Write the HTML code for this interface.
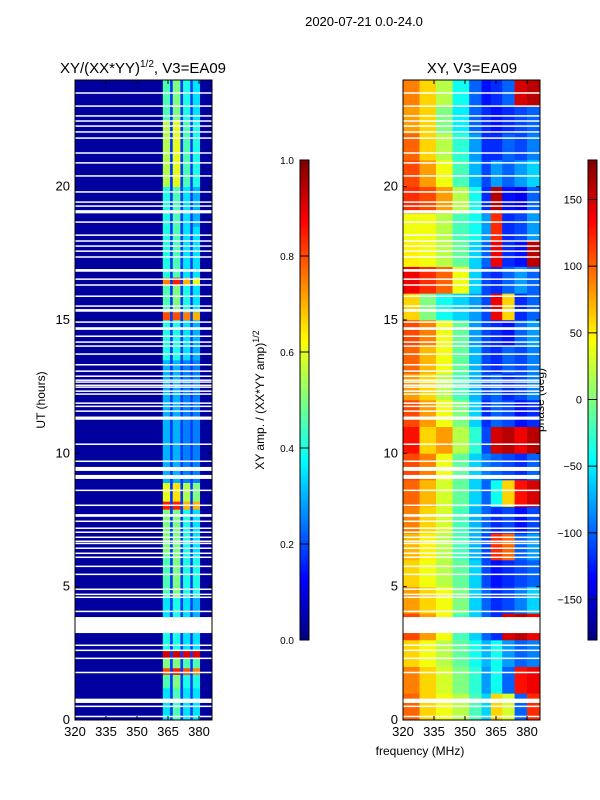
<!DOCTYPE html>
<html><head><meta charset="utf-8"><style>
body{margin:0;background:#fff;}
svg{display:block;font-family:"Liberation Sans",sans-serif;}
</style></head><body>
<svg id="fig" width="600" height="800" xmlns="http://www.w3.org/2000/svg">
<text x="364" y="26" font-size="13" text-anchor="middle">2020-07-21 0.0-24.0</text>
<text x="143" y="73" font-size="15" text-anchor="middle">XY/(XX*YY)<tspan font-size="10" dy="-6">1/2</tspan><tspan dy="6">, V3=EA09</tspan></text>
<text x="472" y="73" font-size="15" text-anchor="middle">XY, V3=EA09</text>
<text x="420" y="755" font-size="12" text-anchor="middle">frequency (MHz)</text>
<text transform="translate(45,400) rotate(-90)" font-size="12" text-anchor="middle">UT (hours)</text>
<text transform="translate(264,400) rotate(-90)" font-size="12" text-anchor="middle">XY amp. / (XX*YY amp)<tspan font-size="9" dy="-5">1/2</tspan></text>
<text transform="translate(544,400) rotate(-90)" font-size="12" text-anchor="middle">phase (deg)</text>
<g id="L"></g>
<g id="R"></g>
<g id="CB"></g>
<g id="AX"></g>
</svg>
<script>
// ---- data ----
const xTicks = [320, 335, 350, 365, 380];
const yTicks = [0, 5, 10, 15, 20];
const ampTicks = [0.0, 0.2, 0.4, 0.6, 0.8, 1.0];
const phaseTicks = [-150, -100, -50, 0, 50, 100, 150];
const ampEdges = [320, 362.5, 366, 367.3, 371, 372.3, 375.8, 377, 380.5, 386.3];
// [startHour, endHour, band1, band2, band3, band4]
const ampRows = [
[0,1.2,0.35,0.45,0.35,0.35],[1.2,1.7,0.45,0.5,0.4,0.4],[1.7,1.95,0.8,0.85,0.8,0.75],
[1.95,2.3,0.5,0.5,0.45,0.45],[2.3,2.6,0.92,0.92,0.9,0.9],[2.6,3.3,0.4,0.4,0.35,0.35],
[3.3,4.6,0.35,0.4,0.35,0.3],[4.6,6.2,0.45,0.5,0.4,0.4],[6.2,7.9,0.5,0.5,0.4,0.35],
[7.9,8.2,0.85,0.85,0.7,0.7],[8.2,8.9,0.6,0.65,0.55,0.5],[8.9,11.2,0.3,0.3,0.25,0.25],
[11.2,13.5,0.3,0.3,0.25,0.25],[13.5,15.0,0.4,0.4,0.35,0.3],[15.0,15.3,0.8,0.8,0.75,0.7],
[15.3,16.3,0.45,0.5,0.4,0.35],[16.3,16.6,0.75,0.85,0.7,0.6],[16.6,18.5,0.4,0.45,0.35,0.35],
[18.5,20.0,0.4,0.45,0.35,0.3],[20.0,22.5,0.55,0.6,0.45,0.4],[22.5,24,0.45,0.5,0.4,0.35]];
const ampBase = 0.03;
const ampGap = 0.18;
const phaseEdges = [320, 328, 336, 344, 352, 358, 362.5, 368, 374, 380, 386.3];
const phaseRows = [
[100,60,40,20,-20,-60,60,30,-100,120],
[90,60,30,0,-30,-80,-40,-100,130,140],
[60,40,20,-10,-40,-70,-40,-80,-100,-90],
[110,80,40,-20,-60,-100,-120,150,160,140],
[80,60,40,0,-60,-100,-120,-110,-90,-60],
[60,40,20,-10,-60,-110,-130,-120,-110,-100],
[70,50,20,-20,-70,-110,120,100,-100,-80],
[90,60,30,-20,-70,-100,-120,-110,-130,-110],
[100,70,30,-10,-60,-100,-40,60,130,150],
[110,90,40,-10,-60,-90,-100,-110,-120,-100],
[130,60,80,20,-30,-110,150,160,140,160],
[110,80,40,0,-60,-120,-100,-110,-130,-120],
[80,60,20,-20,-70,-110,-100,-120,-110,-90],
[100,70,40,-10,-70,-110,-120,-100,-110,-90],
[110,90,40,-10,-80,-110,-120,-130,-100,-80],
[60,0,-40,-60,-80,-110,140,60,-120,-100],
[140,120,100,40,-60,-110,-120,-100,-80,-100],
[50,40,20,-10,-60,-100,140,-120,-130,160],
[40,40,20,-20,-40,-80,120,-120,-110,-80],
[120,110,80,20,-40,-120,160,-130,-140,-100],
[110,80,40,-20,-70,-110,-80,-100,-80,-60],
[100,60,20,-30,-80,-120,-120,-100,-110,-90],
[80,60,0,-50,-100,-120,-130,-120,-110,-100],
[90,60,20,-40,-100,-130,-120,-100,150,160]];
// flagged (white) rows: [hour, duration]
const gaps = [[0.11,0.05],[0.49,0.05],[0.64,0.16],[1.76,0.05],[2.29,0.05],[2.59,0.05],[2.78,0.05],
[3.26,0.6],[4.05,0.05],[4.58,0.05],[4.69,0.05],[4.88,0.05],[5.44,0.05],[5.74,0.05],[6.08,0.05],
[6.23,0.05],[6.42,0.05],[6.6,0.05],[6.68,0.05],[6.83,0.05],[7.02,0.05],[7.17,0.05],[7.43,0.05],
[7.62,0.1],[8.03,0.05],[8.59,0.05],[9.04,0.15],[9.34,0.15],[9.68,0.05],[10.32,0.05],[11.26,0.12],
[11.56,0.05],[11.74,0.05],[11.86,0.05],[12.2,0.05],[12.31,0.05],[12.46,0.05],[12.53,0.05],
[12.65,0.05],[12.72,0.05],[12.87,0.05],[13.06,0.05],[13.3,0.05],[13.7,0.05],[14.0,0.05],
[14.15,0.05],[14.37,0.05],[14.63,0.1],[14.9,0.05],[15.31,0.1],[15.5,0.05],[15.87,0.05],
[16.29,0.05],[16.51,0.05],[16.81,0.1],[17.34,0.05],[17.56,0.05],[17.75,0.05],[17.94,0.05],
[18.16,0.05],[18.65,0.05],[19.0,0.12],[19.25,0.05],[19.4,0.05],[19.78,0.05],[20.38,0.05],
[20.87,0.05],[21.24,0.05],[21.8,0.05],[22.03,0.05],[22.25,0.05],[22.44,0.05],[22.63,0.05],
[23.0,0.05],[23.49,0.05]];

// ---- scales ----
const NS = "http://www.w3.org/2000/svg";
const LX = 75, RX = 403, PW = 137, PT = 80, PB = 720;
const fx = f => (f - 320) * (124 / 60);
const hy = h => PB - h * (PB - PT) / 24;
const ampY = v => 640 - v * 480;
const phY = v => 399.5 - v * (480 / 360);
function jet(t){t=Math.max(0,Math.min(1,t));
 const r=Math.max(0,Math.min(1,1.5-Math.abs(4*t-3))),g=Math.max(0,Math.min(1,1.5-Math.abs(4*t-2))),b=Math.max(0,Math.min(1,1.5-Math.abs(4*t-1)));
 return `rgb(${Math.round(r*255)},${Math.round(g*255)},${Math.round(b*255)})`;}
function el(tag, attrs, parent){const e=document.createElementNS(NS,tag);for(const k in attrs)e.setAttribute(k,attrs[k]);parent.appendChild(e);return e;}

const L = document.getElementById('L'), R = document.getElementById('R'), CB = document.getElementById('CB'), AX = document.getElementById('AX');
// amplitude heatmap
ampRows.forEach(row => {
  const y1 = hy(row[1]), y0 = hy(row[0]);
  for (let c = 0; c < ampEdges.length - 1; c++) {
    let v = c === 0 ? ampBase : (c % 2 === 1 ? row[1 + (c + 1) / 2] : ampGap);
    if (c === ampEdges.length - 2) v = ampBase;
    const r = el('rect', {x: LX + fx(ampEdges[c]), y: y1, width: fx(ampEdges[c + 1]) - fx(ampEdges[c]) + 0.3, height: y0 - y1 + 0.3, fill: jet(v)}, L);
    
    
  }
});
// phase heatmap
phaseRows.forEach((row, h) => {
  const y1 = hy(h + 1), y0 = hy(h);
  row.forEach((v, c) => {
    const r = el('rect', {x: RX + fx(phaseEdges[c]), y: y1, width: fx(phaseEdges[c + 1]) - fx(phaseEdges[c]) + 0.3, height: y0 - y1 + 0.3, fill: jet((v + 180) / 360)}, R);
    
    
  });
});
// gaps
[[L, LX], [R, RX]].forEach(([g, x0]) => {
  gaps.forEach(gp => {
    const r = el('rect', {x: x0, y: hy(gp[0] + gp[1]), width: PW, height: Math.max(1.5, hy(gp[0]) - hy(gp[0] + gp[1])), fill: '#fff'}, g);
    
    
  });
});
// axes frames & ticks
[LX, RX].forEach(x0 => {
  const f = el('rect', {x: x0, y: PT, width: PW, height: PB - PT, fill: 'none', stroke: '#000', 'stroke-width': 1}, AX);
  
  
  xTicks.forEach(t => {
    const x = x0 + fx(t);
    el('line', {x1: x, x2: x, y1: PB, y2: PB - 4, stroke: '#000'}, AX);
    el('line', {x1: x, x2: x, y1: PT, y2: PT + 4, stroke: '#000'}, AX);
    const tx = el('text', {x: x, y: PB + 16, 'font-size': 13, 'text-anchor': 'middle'}, AX);
    tx.textContent = t;
    
    
  });
  yTicks.forEach(t => {
    const y = hy(t);
    el('line', {x1: x0, x2: x0 + 4, y1: y, y2: y, stroke: '#000'}, AX);
    el('line', {x1: x0 + PW, x2: x0 + PW - 4, y1: y, y2: y, stroke: '#000'}, AX);
    const tx = el('text', {x: x0 - 5, y: y + 4, 'font-size': 13, 'text-anchor': 'end'}, AX);
    tx.textContent = t;
    
    
  });
});
// colorbars
function colorbar(x0, lo, hi, ticks, yf, name){
  for (let i = 0; i < 240; i++) {
    const v0 = lo + (hi - lo) * i / 240, v1 = lo + (hi - lo) * (i + 1) / 240;
    el('rect', {x: x0, y: yf(v1), width: 9, height: yf(v0) - yf(v1) + 0.3, fill: jet(i / 239)}, CB);
  }
  const f = el('rect', {x: x0, y: 160, width: 9, height: 480, fill: 'none', stroke: '#000'}, CB);
  
  
  ticks.forEach(t => {
    const y = yf(t);
    el('line', {x1: x0, x2: x0 + 9, y1: y, y2: y, stroke: '#000'}, CB);
    const tx = el('text', {x: x0 - 6, y: y + 4, 'font-size': name === 'amp-colorbar' ? 10 : 11, 'text-anchor': 'end'}, CB);
    tx.textContent = name === 'amp-colorbar' ? t.toFixed(1) : (t < 0 ? '\u2212' + (-t) : t);
    
    
  });
}
colorbar(300, 0, 1, ampTicks, ampY, 'amp-colorbar');
colorbar(588, -180, 180, phaseTicks, phY, 'phase-colorbar');
</script>
</body></html>
